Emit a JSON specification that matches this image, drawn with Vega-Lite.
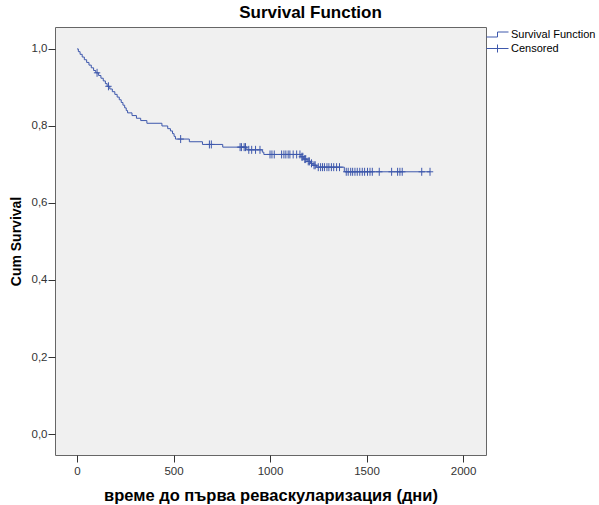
{
  "$schema": "https://vega.github.io/schema/vega-lite/v6.json",
  "width": 431,
  "height": 428,
  "autosize": {"type": "none"},
  "padding": {"left": 55, "top": 27, "right": 113, "bottom": 50},
  "background": "white",
  "view": {"fill": "#f0f0f0", "stroke": "#666666", "strokeWidth": 1},
  "title": {
    "text": "Survival Function",
    "font": "Liberation Sans",
    "fontSize": 17,
    "fontWeight": "bold",
    "color": "#000000",
    "anchor": "middle",
    "frame": "bounds",
    "dx": 7,
    "offset": 5
  },
  "config": {
    "view": {"fill": "#f0f0f0", "stroke": "#666666", "strokeWidth": 1},
    "axis": {
      "domain": false,
      "grid": false,
      "tickSize": 7,
      "tickColor": "#333333",
      "labelFont": "Liberation Sans",
      "labelFontSize": 11.5,
      "labelColor": "#333333",
      "titleFont": "Liberation Sans",
      "titleFontSize": 14,
      "titleFontWeight": "bold",
      "titleColor": "#000000"
    },
    "legend": {
      "orient": "right",
      "offset": 4,
      "padding": 2,
      "symbolSize": 100,
      "symbolStrokeWidth": 1,
      "labelOffset": 8,
      "labelFont": "Liberation Sans",
      "labelFontSize": 11,
      "labelColor": "#000000",
      "rowPadding": 2
    }
  },
  "datasets": {
    "km": [
      {"time": 0, "surv": 1.0, "status": "event"},
      {"time": 7, "surv": 0.993, "status": "event"},
      {"time": 16, "surv": 0.986, "status": "event"},
      {"time": 27, "surv": 0.979, "status": "event"},
      {"time": 38, "surv": 0.972, "status": "event"},
      {"time": 50, "surv": 0.965, "status": "event"},
      {"time": 62, "surv": 0.958, "status": "event"},
      {"time": 74, "surv": 0.951, "status": "event"},
      {"time": 86, "surv": 0.944, "status": "event"},
      {"time": 97, "surv": 0.938, "status": "event"},
      {"time": 104, "surv": 0.938, "status": "censored"},
      {"time": 112, "surv": 0.931, "status": "event"},
      {"time": 124, "surv": 0.924, "status": "event"},
      {"time": 136, "surv": 0.917, "status": "event"},
      {"time": 147, "surv": 0.910, "status": "event"},
      {"time": 156, "surv": 0.903, "status": "event"},
      {"time": 163, "surv": 0.903, "status": "censored"},
      {"time": 170, "surv": 0.896, "status": "event"},
      {"time": 183, "surv": 0.889, "status": "event"},
      {"time": 196, "surv": 0.882, "status": "event"},
      {"time": 208, "surv": 0.875, "status": "event"},
      {"time": 219, "surv": 0.868, "status": "event"},
      {"time": 229, "surv": 0.861, "status": "event"},
      {"time": 238, "surv": 0.854, "status": "event"},
      {"time": 247, "surv": 0.847, "status": "event"},
      {"time": 255, "surv": 0.840, "status": "event"},
      {"time": 262, "surv": 0.834, "status": "event"},
      {"time": 285, "surv": 0.827, "status": "event"},
      {"time": 308, "surv": 0.820, "status": "event"},
      {"time": 330, "surv": 0.814, "status": "event"},
      {"time": 362, "surv": 0.807, "status": "event"},
      {"time": 440, "surv": 0.800, "status": "event"},
      {"time": 470, "surv": 0.793, "status": "event"},
      {"time": 484, "surv": 0.787, "status": "event"},
      {"time": 495, "surv": 0.780, "status": "event"},
      {"time": 503, "surv": 0.773, "status": "event"},
      {"time": 510, "surv": 0.766, "status": "event"},
      {"time": 537, "surv": 0.766, "status": "censored"},
      {"time": 582, "surv": 0.759, "status": "event"},
      {"time": 650, "surv": 0.752, "status": "event"},
      {"time": 686, "surv": 0.752, "status": "censored"},
      {"time": 696, "surv": 0.752, "status": "censored"},
      {"time": 755, "surv": 0.745, "status": "event"},
      {"time": 845, "surv": 0.745, "status": "censored"},
      {"time": 852, "surv": 0.745, "status": "censored"},
      {"time": 866, "surv": 0.745, "status": "censored"},
      {"time": 873, "surv": 0.745, "status": "censored"},
      {"time": 880, "surv": 0.738, "status": "event"},
      {"time": 890, "surv": 0.738, "status": "censored"},
      {"time": 905, "surv": 0.738, "status": "censored"},
      {"time": 925, "surv": 0.738, "status": "censored"},
      {"time": 948, "surv": 0.738, "status": "censored"},
      {"time": 960, "surv": 0.732, "status": "event"},
      {"time": 968, "surv": 0.726, "status": "event"},
      {"time": 1000, "surv": 0.726, "status": "censored"},
      {"time": 1010, "surv": 0.726, "status": "censored"},
      {"time": 1022, "surv": 0.726, "status": "censored"},
      {"time": 1060, "surv": 0.726, "status": "censored"},
      {"time": 1072, "surv": 0.726, "status": "censored"},
      {"time": 1082, "surv": 0.726, "status": "censored"},
      {"time": 1094, "surv": 0.726, "status": "censored"},
      {"time": 1103, "surv": 0.726, "status": "censored"},
      {"time": 1120, "surv": 0.726, "status": "censored"},
      {"time": 1138, "surv": 0.726, "status": "censored"},
      {"time": 1155, "surv": 0.726, "status": "censored"},
      {"time": 1160, "surv": 0.720, "status": "event"},
      {"time": 1165, "surv": 0.720, "status": "censored"},
      {"time": 1170, "surv": 0.720, "status": "censored"},
      {"time": 1175, "surv": 0.714, "status": "event"},
      {"time": 1180, "surv": 0.714, "status": "censored"},
      {"time": 1185, "surv": 0.714, "status": "censored"},
      {"time": 1192, "surv": 0.708, "status": "event"},
      {"time": 1198, "surv": 0.708, "status": "censored"},
      {"time": 1204, "surv": 0.708, "status": "censored"},
      {"time": 1210, "surv": 0.703, "status": "event"},
      {"time": 1215, "surv": 0.703, "status": "censored"},
      {"time": 1222, "surv": 0.698, "status": "event"},
      {"time": 1228, "surv": 0.698, "status": "censored"},
      {"time": 1234, "surv": 0.698, "status": "censored"},
      {"time": 1240, "surv": 0.693, "status": "event"},
      {"time": 1250, "surv": 0.693, "status": "censored"},
      {"time": 1262, "surv": 0.693, "status": "censored"},
      {"time": 1272, "surv": 0.693, "status": "censored"},
      {"time": 1282, "surv": 0.693, "status": "censored"},
      {"time": 1295, "surv": 0.693, "status": "censored"},
      {"time": 1305, "surv": 0.693, "status": "censored"},
      {"time": 1318, "surv": 0.693, "status": "censored"},
      {"time": 1330, "surv": 0.693, "status": "censored"},
      {"time": 1345, "surv": 0.693, "status": "censored"},
      {"time": 1360, "surv": 0.693, "status": "censored"},
      {"time": 1385, "surv": 0.681, "status": "event"},
      {"time": 1395, "surv": 0.681, "status": "censored"},
      {"time": 1405, "surv": 0.681, "status": "censored"},
      {"time": 1418, "surv": 0.681, "status": "censored"},
      {"time": 1428, "surv": 0.681, "status": "censored"},
      {"time": 1440, "surv": 0.681, "status": "censored"},
      {"time": 1452, "surv": 0.681, "status": "censored"},
      {"time": 1465, "surv": 0.681, "status": "censored"},
      {"time": 1478, "surv": 0.681, "status": "censored"},
      {"time": 1490, "surv": 0.681, "status": "censored"},
      {"time": 1505, "surv": 0.681, "status": "censored"},
      {"time": 1518, "surv": 0.681, "status": "censored"},
      {"time": 1530, "surv": 0.681, "status": "censored"},
      {"time": 1566, "surv": 0.681, "status": "censored"},
      {"time": 1630, "surv": 0.681, "status": "censored"},
      {"time": 1661, "surv": 0.681, "status": "censored"},
      {"time": 1673, "surv": 0.681, "status": "censored"},
      {"time": 1685, "surv": 0.681, "status": "censored"},
      {"time": 1786, "surv": 0.681, "status": "censored"},
      {"time": 1829, "surv": 0.681, "status": "censored"}
    ]
  },
  "layer": [
    {
      "data": {"name": "km"},
      "mark": {"type": "line", "interpolate": "step-after", "color": "#3e58ac", "strokeWidth": 1},
      "encoding": {
        "x": {
          "field": "time",
          "type": "quantitative",
          "scale": {"domain": [-114, 2119], "nice": false, "zero": false},
          "axis": {
            "values": [0, 500, 1000, 1500, 2000],
            "labelExpr": "format(datum.value, 'd')",
            "title": "време до първа реваскуларизация (дни)",
            "titleFontSize": 16.5,
            "labelPadding": 3,
            "titlePadding": 11
          }
        },
        "y": {
          "field": "surv",
          "type": "quantitative",
          "scale": {"domain": [-0.0545, 1.057], "nice": false, "zero": false},
          "axis": {
            "values": [0, 0.2, 0.4, 0.6, 0.8, 1],
            "labelExpr": "replace(format(datum.value, '.1f'), '.', ',')",
            "title": "Cum Survival",
            "labelPadding": 1,
            "titlePadding": 8
          }
        }
      }
    },
    {
      "data": {"name": "km"},
      "transform": [{"filter": "datum.status === 'censored'"}],
      "mark": {
        "type": "point",
        "shape": "M-0.8,0L0.8,0M0,-1L0,1",
        "size": 64,
        "filled": false,
        "color": "#3e58ac",
        "strokeWidth": 1,
        "opacity": 1
      },
      "encoding": {
        "x": {"field": "time", "type": "quantitative"},
        "y": {"field": "surv", "type": "quantitative"}
      }
    },
    {
      "data": {"name": "km"},
      "transform": [{"filter": "false"}],
      "mark": {"type": "point", "filled": false, "strokeWidth": 1, "opacity": 1},
      "encoding": {
        "color": {
          "field": "series",
          "type": "nominal",
          "scale": {"domain": ["Survival Function", "Censored"], "range": ["#3e58ac", "#3e58ac"]},
          "legend": {"title": null}
        },
        "shape": {
          "field": "series",
          "type": "nominal",
          "scale": {
            "domain": ["Survival Function", "Censored"],
            "range": ["M-2.2,0.5L0,0.5L0,-0.5L2.2,-0.5", "M-2.2,0L2.2,0M0,-0.8L0,0.8"]
          },
          "legend": {"title": null}
        }
      }
    }
  ]
}
